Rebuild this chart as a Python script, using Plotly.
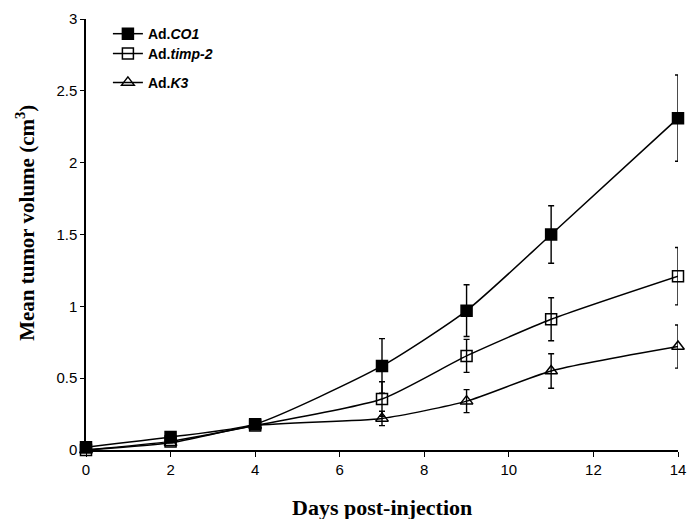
import plotly.graph_objects as go

days = [0, 2, 4, 7, 9, 11, 14]
co1 = [0.02, 0.09, 0.18, 0.585, 0.97, 1.50, 2.31]
co1_err = [0.0, 0.0, 0.0, 0.19, 0.18, 0.20, 0.30]
timp2 = [0.0, 0.06, 0.17, 0.355, 0.655, 0.91, 1.21]
timp2_err = [0.0, 0.0, 0.0, 0.12, 0.115, 0.15, 0.20]
k3 = [0.0, 0.05, 0.17, 0.22, 0.34, 0.55, 0.72]
k3_err = [0.0, 0.0, 0.0, 0.05, 0.08, 0.12, 0.15]

x_ticks = [0, 2, 4, 6, 8, 10, 12, 14]
y_ticks = [0, 0.5, 1, 1.5, 2, 2.5, 3]
y_ticktext = ["0", "0.5", "1", "1.5", "2", "2.5", "3"]

series = [
    ("Ad.<i>CO1</i>", co1, co1_err, "square", "legend", 0.965),
    ("Ad.<i>timp-2</i>", timp2, timp2_err, "square-open", "legend2", 0.919),
    ("Ad.<i>K3</i>", k3, k3_err, "triangle-up-open", "legend3", 0.852),
]

fig = go.Figure()
legend_layout = {}
for name, vals, err, sym, leg, ly in series:
    fig.add_trace(go.Scatter(
        x=days, y=vals, name=name, mode="lines+markers", legend=leg,
        line=dict(color="black", width=1.5, shape="spline", smoothing=0.6),
        marker=dict(symbol=sym, size=11, color="black",
                    line=dict(color="black", width=1.5)),
        error_y=dict(type="data", array=err, visible=True, color="black",
                     thickness=1.4, width=3),
        cliponaxis=False,
    ))
    legend_layout[leg] = dict(
        x=0.037, y=ly, xanchor="left", yanchor="middle",
        font=dict(family="Liberation Sans", size=14, color="black", weight="bold"),
        bgcolor="rgba(0,0,0,0)", itemwidth=30)

fig.update_layout(
    width=689, height=519,
    margin=dict(l=86, r=11, t=19, b=69, autoexpand=False),
    plot_bgcolor="white", paper_bgcolor="white",
    showlegend=True,
    font=dict(family="Liberation Sans", size=14, color="black"),
    annotations=[
        dict(text="Mean tumor volume (cm<sup>3</sup>)", textangle=-90,
             xref="paper", yref="paper", x=0, y=0.527,
             xanchor="center", yanchor="middle", xshift=-60, showarrow=False,
             font=dict(family="Liberation Serif", size=21, weight="bold", color="black")),
        dict(text="Days post-injection",
             xref="paper", yref="paper", x=0.5, y=0,
             xanchor="center", yanchor="middle", yshift=-57, showarrow=False,
             font=dict(family="Liberation Serif", size=22, weight="bold", color="black")),
    ],
    **legend_layout,
)
fig.update_xaxes(
    range=[0, 14], tickvals=x_ticks, automargin=False,
    ticklabeloverflow="allow",
    showline=True, linecolor="black", linewidth=2,
    ticks="outside", ticklen=5, tickcolor="black",
    showgrid=False, zeroline=False,
    tickfont=dict(family="Liberation Sans", size=15),
)
fig.update_yaxes(
    range=[0, 3], tickvals=y_ticks, ticktext=y_ticktext, automargin=False,
    showline=True, linecolor="black", linewidth=1.5,
    ticks="outside", ticklen=4, tickcolor="black",
    showgrid=False, zeroline=False,
    tickfont=dict(family="Liberation Sans", size=15),
)
fig.write_html("out.html", config={"displayModeBar": False},
               post_script="document.body.style.margin='0';")
